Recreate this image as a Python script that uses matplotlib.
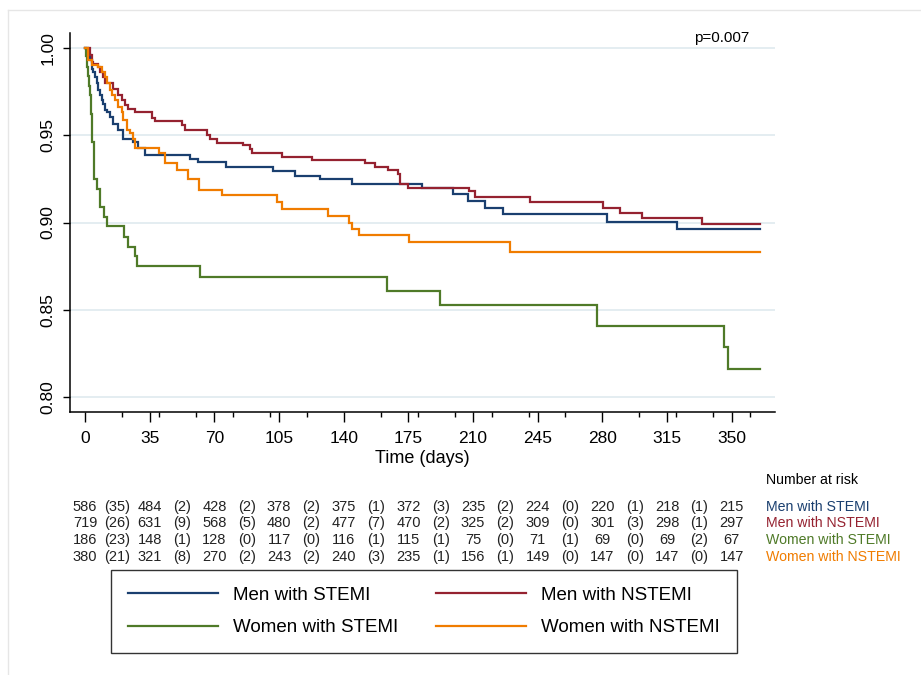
import matplotlib

matplotlib.use("Agg")
import matplotlib.pyplot as plt
from matplotlib.lines import Line2D
from matplotlib.transforms import blended_transform_factory

plt.rcParams["font.family"] = ["Liberation Sans", "DejaVu Sans"]

# Kaplan-Meier step points (time in days, survival probability)
FOLLOW_UP_END = 365

men_stemi_t = [0, 1.5, 2.7, 3.6, 4.5, 5.4, 6.3, 7.2, 8.1, 9, 9.9, 10.8, 11.7, 13.5, 15.3, 18, 20.7, 26.1,
               28.8, 32.5, 56.8, 61.3, 76.3, 101.9, 113.6, 127.2, 144.3, 182.2, 199.3, 207.4, 216.5,
               226.4, 282.3, 320.2]
men_stemi_s = [1.0, 0.9966, 0.9927, 0.988, 0.986, 0.983, 0.9795, 0.976, 0.9728, 0.970, 0.968, 0.9642,
               0.963, 0.9604, 0.9566, 0.9528, 0.948, 0.9462, 0.9424, 0.9385, 0.9366, 0.9347, 0.932,
               0.9297, 0.9268, 0.9247, 0.922, 0.920, 0.9162, 0.9124, 0.9084, 0.9046, 0.9004, 0.8964]

men_nstemi_t = [0, 2.7, 3.6, 4.5, 7.2, 8.1, 9.9, 10.8, 15.3, 18, 19.8, 21.6, 23.5, 27.1, 36.1, 38, 52.3,
                54.1, 65.8, 67.6, 71.2, 85.7, 89.3, 90.5, 106.4, 122.7, 151.5, 157, 164, 169.5, 170.5,
                175, 208, 211, 240.7, 280.4, 289.4, 301.2, 333.7]
men_nstemi_s = [1.0, 0.9956, 0.9918, 0.9905, 0.989, 0.986, 0.983, 0.9795, 0.9766, 0.9728, 0.970, 0.967,
                0.965, 0.9632, 0.9598, 0.958, 0.9557, 0.953, 0.950, 0.948, 0.9457, 0.9443, 0.9418,
                0.9395, 0.9376, 0.9357, 0.9338, 0.932, 0.930, 0.928, 0.9223, 0.920, 0.918, 0.9147,
                0.9116, 0.9084, 0.9055, 0.9023, 0.899]

women_stemi_t = [0, 0.5, 1, 1.5, 2, 2.5, 3, 3.3, 3.6, 4, 4.9, 6.7, 8.1, 10.3, 12.1, 21, 23.5, 27, 28.3,
                 62, 163.3, 192.2, 277.2, 346, 348]
women_stemi_s = [1.0, 0.995, 0.989, 0.984, 0.978, 0.973, 0.968, 0.962, 0.957, 0.946, 0.9247, 0.919,
                 0.9087, 0.9033, 0.898, 0.892, 0.886, 0.881, 0.875, 0.869, 0.861, 0.853, 0.841, 0.829,
                 0.816]

women_nstemi_t = [0, 1.8, 3.6, 7.2, 9, 10.8, 11.7, 13.5, 14.4, 16.2, 18, 19.8, 20.7, 22.6, 24.4, 25.8,
                  27.1, 40, 43.3, 49.6, 55.9, 61.9, 74, 103.7, 106.4, 131.3, 143, 144.4, 148.4, 175.3,
                  230]
women_nstemi_s = [1.0, 0.9927, 0.990, 0.989, 0.986, 0.983, 0.980, 0.9756, 0.973, 0.970, 0.966, 0.963,
                  0.9585, 0.9528, 0.951, 0.948, 0.9424, 0.9398, 0.9338, 0.930, 0.9247, 0.9186, 0.9155,
                  0.9115, 0.9077, 0.904, 0.900, 0.8964, 0.8927, 0.8887, 0.883]

group_names = ["Men with STEMI", "Men with NSTEMI", "Women with STEMI", "Women with NSTEMI"]
group_colors = ["#1a3f6f", "#952230", "#4f7a28", "#f07c00"]

# number at risk at each labelled time, and events within each interval
risk_times = [0, 35, 70, 105, 140, 175, 210, 245, 280, 315, 350]
men_stemi_risk = [586, 484, 428, 378, 375, 372, 235, 224, 220, 218, 215]
men_stemi_events = [35, 2, 2, 2, 1, 3, 2, 0, 1, 1]
men_nstemi_risk = [719, 631, 568, 480, 477, 470, 325, 309, 301, 298, 297]
men_nstemi_events = [26, 9, 5, 2, 7, 2, 2, 0, 3, 1]
women_stemi_risk = [186, 148, 128, 117, 116, 115, 75, 71, 69, 69, 67]
women_stemi_events = [23, 1, 0, 0, 1, 1, 0, 1, 0, 2]
women_nstemi_risk = [380, 321, 270, 243, 240, 235, 156, 149, 147, 147, 147]
women_nstemi_events = [21, 8, 2, 2, 3, 1, 1, 0, 0, 0]

y_ticks = [0.80, 0.85, 0.90, 0.95, 1.00]
minor_x_ticks = list(range(20, 361, 20))
p_text = "p=0.007"

curves = [
    (men_stemi_t, men_stemi_s),
    (men_nstemi_t, men_nstemi_s),
    (women_stemi_t, women_stemi_s),
    (women_nstemi_t, women_nstemi_s),
]
risk_rows = [
    (men_stemi_risk, men_stemi_events),
    (men_nstemi_risk, men_nstemi_events),
    (women_stemi_risk, women_stemi_events),
    (women_nstemi_risk, women_nstemi_events),
]

fig = plt.figure(figsize=(9.21, 6.75), dpi=100)
fig.patch.set_facecolor("#FFFFFF")
ax = fig.add_axes([0.0755, 0.390, 0.766, 0.5607])

for (t, s), name, color in zip(curves, group_names, group_colors):
    ax.step(t + [FOLLOW_UP_END], s + [s[-1]], where="post", color=color, lw=1.6, label=name,
            solid_joinstyle="miter")

ax.set_xlim(-8.4, 373.4)
ax.set_ylim(0.7918, 1.0082)
ax.set_xticks(risk_times)
ax.set_xticks(minor_x_ticks, minor=True)
ax.set_yticks(y_ticks)
ax.set_yticklabels([f"{v:.2f}" for v in y_ticks], rotation=90, va="center")
ax.tick_params(axis="y", length=5.3, width=1, labelsize=12.5, pad=5, colors="#000000")
ax.tick_params(axis="x", which="major", length=7, width=1, labelsize=12.5, pad=7)
ax.tick_params(axis="x", which="minor", length=3.5, width=1)
ax.grid(axis="y", color="#e4edf1", lw=1.4)
ax.set_axisbelow(True)
for side in ["top", "right"]:
    ax.spines[side].set_visible(False)
for side in ["left", "bottom"]:
    ax.spines[side].set_linewidth(1.1)
ax.set_xlabel("Time (days)", fontsize=13, labelpad=2.5)

ax.text(344.7, 1.0053, p_text, ha="center", va="center", fontsize=11)

# number at risk table
trans = blended_transform_factory(ax.transData, fig.transFigure)
fig.text(0.8317, 0.2889, "Number at risk", ha="left", va="center", fontsize=10.2)
row_y = [0.2489, 0.2252, 0.2000, 0.1748]
for (risk, events), name, color, yy in zip(risk_rows, group_names, group_colors, row_y):
    for tt, n in zip(risk_times, risk):
        ax.text(tt, yy, str(n), transform=trans, ha="center", va="center", fontsize=10.5,
                color="#222222", clip_on=False)
    for i, e in enumerate(events):
        mid = (risk_times[i] + risk_times[i + 1]) / 2
        ax.text(mid, yy, f"({e})", transform=trans, ha="center", va="center", fontsize=10.5,
                color="#222222", clip_on=False)
    fig.text(0.8317, yy, name, ha="left", va="center", fontsize=10.2, color=color)

# legend filled row by row: matplotlib fills columns first, so interleave
order = [0, 2, 1, 3]
handles = [Line2D([], [], color=group_colors[i], lw=1.6) for i in order]
labels = [group_names[i] for i in order]
leg = fig.legend(
    handles,
    labels,
    loc="center",
    bbox_to_anchor=(0.4604, 0.094),
    ncol=2,
    fontsize=13.5,
    frameon=True,
    fancybox=False,
    edgecolor="#000000",
    handlelength=4.8,
    handletextpad=0.8,
    columnspacing=2.0,
    labelspacing=0.82,
    borderpad=0.9,
)
leg.get_frame().set_linewidth(1.0)

# faint outer frame of the graph region
fig.add_artist(Line2D([0.0087, 0.0087], [0.0, 0.985], transform=fig.transFigure, color="#e6e6e6", lw=1))
fig.add_artist(Line2D([0.0087, 1.0], [0.985, 0.985], transform=fig.transFigure, color="#e6e6e6", lw=1))

fig.savefig("out.png", dpi=100)
plt.close(fig)
